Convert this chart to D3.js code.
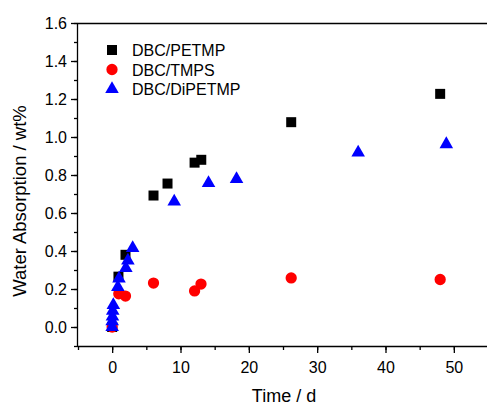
<!DOCTYPE html>
<html><head><meta charset="utf-8">
<script src="https://cdn.jsdelivr.net/npm/d3@7"></script>
<style>body{margin:0;background:#fff}svg{display:block;font-family:"Liberation Sans",Arial,sans-serif}</style>
</head><body>
<svg id="c" width="487" height="406"></svg>
<script>
const seriesNames = ["DBC/PETMP", "DBC/TMPS", "DBC/DiPETMP"];
const petmpX = [0, 0.92, 1.95, 6.05, 8.1, 12.06, 13.04, 26.2, 48];
const petmpY = [0, 0.265, 0.38, 0.692, 0.755, 0.865, 0.88, 1.078, 1.227];
const tmpsX = [0, 0.97, 1.95, 6.05, 12.06, 13.0, 26.2, 48];
const tmpsY = [0, 0.175, 0.163, 0.231, 0.19, 0.226, 0.258, 0.25];
const dipX = [0, 0, 0.04, 0.08, 0.17, 0.83, 1.0, 2.0, 2.3, 3.0, 9.08, 14.1, 18.2, 36, 48.9];
const dipY = [0, 0.03, 0.055, 0.085, 0.115, 0.21, 0.255, 0.31, 0.35, 0.415, 0.66, 0.757, 0.778, 0.918, 0.962];
const xTicks = [0, 10, 20, 30, 40, 50];
const yTicks = [0.0, 0.2, 0.4, 0.6, 0.8, 1.0, 1.2, 1.4, 1.6];

const svg = d3.select("#c");
const L = 78, R = 488, T = 23, B = 346;
const x = d3.scaleLinear().domain([-5, 55]).range([L, R]);
const y = d3.scaleLinear().domain([-0.1, 1.6]).range([B, T]);

svg.append("line").attr("x1", L).attr("x2", 487).attr("y1", T + 0.5).attr("y2", T + 0.5).attr("stroke", "#000").attr("stroke-width", 1.3);

const xMinor = d3.range(-5, 56, 5);
const yMinor = d3.range(-0.1, 1.61, 0.1).map(v => +v.toFixed(2));

const gx = svg.append("g").attr("transform", `translate(0,${B})`);
gx.call(d3.axisBottom(x).tickValues(xMinor).tickSize(4).tickFormat(""));
gx.call(g => g.select(".domain").remove());
const gx2 = svg.append("g").attr("transform", `translate(0,${B})`);
gx2.call(d3.axisBottom(x).tickValues(xTicks).tickSize(7).tickPadding(9).tickFormat(d3.format("d")));
gx2.select(".domain").attr("d", `M${L},0.5H487`);

const gy = svg.append("g").attr("transform", `translate(${L},0)`);
gy.call(d3.axisLeft(y).tickValues(yMinor).tickSize(4).tickFormat(""));
gy.call(g => g.select(".domain").remove());
const gy2 = svg.append("g").attr("transform", `translate(${L},0)`);
gy2.call(d3.axisLeft(y).tickValues(yTicks).tickSize(7).tickPadding(4).tickFormat(d3.format(".1f")));
gy2.select(".domain").attr("d", `M-0.5,${T}V${B}`);

svg.selectAll(".tick line").attr("stroke-width", 1.3);
svg.selectAll(".domain").attr("stroke-width", 1.3);
svg.selectAll(".tick text").attr("font-size", 16).attr("fill", "#000").attr("font-family", "Liberation Sans, Arial, sans-serif");

svg.append("text").attr("x", 284).attr("y", 402).attr("text-anchor", "middle").attr("font-size", 18).text("Time / d");
svg.append("text").attr("transform", `translate(26,201) rotate(-90)`).attr("text-anchor", "middle").attr("font-size", 18.5).text("Water Absorption / wt%");

const sq = d3.symbol().type(d3.symbolSquare).size(100);
const ci = d3.symbol().type(d3.symbolCircle).size(100);
const tr = d3.symbol().type(d3.symbolTriangle).size(80);

const plot = svg.append("g");
plot.selectAll(".p").data(petmpX.map((v, i) => [v, petmpY[i]])).join("path")
  .attr("d", sq).attr("fill", "#000").attr("transform", d => `translate(${x(d[0])},${y(d[1])})`);
plot.selectAll(".t").data(tmpsX.map((v, i) => [v, tmpsY[i]])).join("path")
  .attr("d", ci).attr("fill", "#ff0000").attr("transform", d => `translate(${x(d[0])},${y(d[1])})`);
plot.selectAll(".d").data(dipX.map((v, i) => [v, dipY[i]])).join("path")
  .attr("d", tr).attr("fill", "#0000ff").attr("transform", d => `translate(${x(d[0])},${y(d[1])})`);

const leg = svg.append("g");
const syms = [sq, ci, tr], cols = ["#000", "#ff0000", "#0000ff"];
seriesNames.forEach((n, i) => {
  const yy = 50 + i * 19.5;
  leg.append("path").attr("d", syms[i]).attr("fill", cols[i]).attr("transform", `translate(112,${yy})`);
  leg.append("text").attr("x", 132).attr("y", yy + 6).attr("font-size", 16).text(n);
});
</script>
</body></html>
